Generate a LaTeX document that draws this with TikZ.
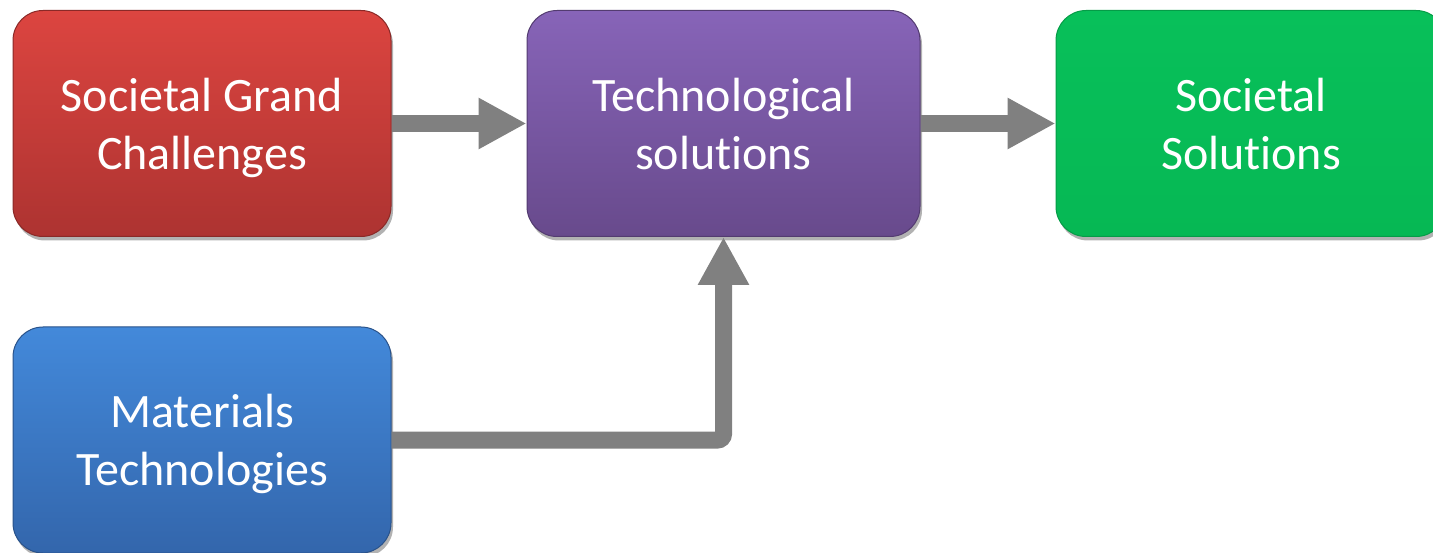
\documentclass[tikz,border=0pt]{standalone}
\usepackage{fontspec}
\setmainfont{Carlito}
\usetikzlibrary{arrows.meta,shadows}
\definecolor{redT}{HTML}{DC4540}
\definecolor{redB}{HTML}{AD3331}
\definecolor{purT}{HTML}{8764B8}
\definecolor{purB}{HTML}{684A8C}
\definecolor{grnT}{HTML}{08C05A}
\definecolor{grnB}{HTML}{06B854}
\definecolor{bluT}{HTML}{4389DA}
\definecolor{bluB}{HTML}{3366AC}
\definecolor{arrowgray}{HTML}{808080}
\newcommand{\cardtext}[1]{\raisebox{-5pt}[\height][\depth]{\begin{tabular}{@{}c@{}}#1\end{tabular}}}
\newcommand{\nl}{\kern0pt\relax}
\tikzset{
  card/.style={rounded corners=30pt, minimum height=226pt, inner sep=0pt,
    align=center, text=white, font=\fontsize{48}{58}\selectfont,
    line width=1pt,
    drop shadow={shadow xshift=2pt, shadow yshift=-4pt, opacity=0.3, fill=black}},
  conn/.style={draw=arrowgray, line width=17pt,
    -{Triangle[length=48pt,width=48pt]}}
}
\begin{document}
\begin{tikzpicture}[x=1pt,y=-1pt]
\useasboundingbox (0,0) rectangle (1433,553);
\node[card, minimum width=378pt, top color=redT, bottom color=redB, draw=redB!80!black]
  (sgc) at (202,123.5) {\cardtext{Societal Grand\\Challenges}};
\node[card, minimum width=393pt, top color=purT, bottom color=purB, draw=purB!80!black]
  (ts) at (723.5,123.5) {\cardtext{Technological\\solut\nl ions}};
\node[card, minimum width=390pt, top color=grnT, bottom color=grnB, draw=grnB!85!black]
  (ss) at (1251,123.5) {\cardtext{Societal\\Solut\nl ions}};
\node[card, minimum width=378pt, top color=bluT, bottom color=bluB, draw=bluB!80!black]
  (mt) at (202,440) {\cardtext{Materials\\Technologies}};
\draw[conn] (sgc) -- (ts);
\draw[conn] (ts) -- (ss);
\draw[conn, rounded corners=6pt] (mt.east) -| (ts.south);
\end{tikzpicture}
\end{document}
